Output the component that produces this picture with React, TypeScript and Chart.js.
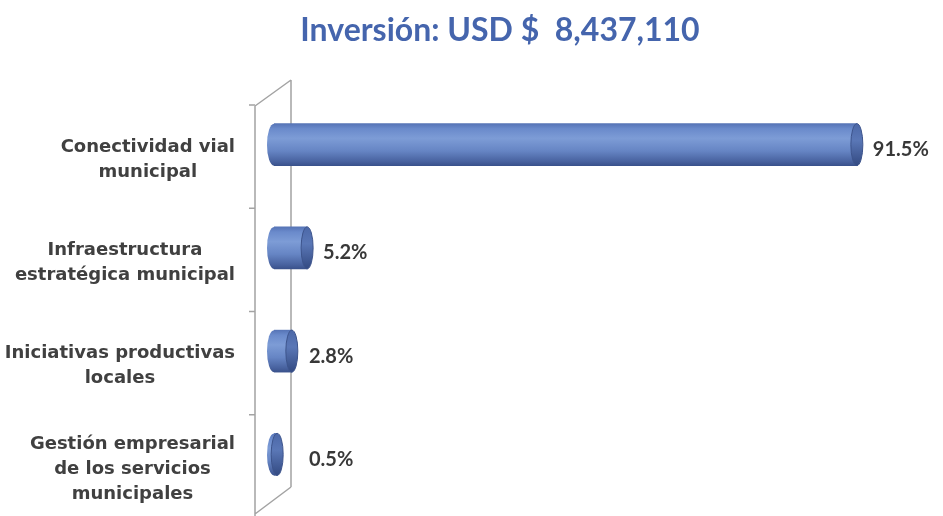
import React, { useEffect, useRef } from "react";
import { Chart, registerables } from "chart.js";

Chart.register(...registerables);

const TITLE = "Inversión: USD $  8,437,110";
const categories: string[][] = [
  ["Conectividad vial", "municipal"],
  ["Infraestructura", "estratégica municipal"],
  ["Iniciativas productivas", "locales"],
  ["Gestión empresarial", "de los servicios", "municipales"],
];
const shares: number[] = [91.5, 5.2, 2.8, 0.5];
const valueLabels: string[] = ["91.5%", "5.2%", "2.8%", "0.5%"];

const BAR_H = 42;
const DY = -10;
const LABEL_FONT = "'DejaVu Sans', sans-serif";

function bodyGradient(ctx: CanvasRenderingContext2D, yc: number, h: number) {
  const g = ctx.createLinearGradient(0, yc - h / 2, 0, yc + h / 2);
  g.addColorStop(0, "#5674b6");
  g.addColorStop(0.12, "#6a8acb");
  g.addColorStop(0.35, "#7d9cd6");
  g.addColorStop(0.65, "#6685c4");
  g.addColorStop(0.9, "#48629f");
  g.addColorStop(1, "#3a528c");
  return g;
}

function capGradient(ctx: CanvasRenderingContext2D, yc: number, h: number) {
  const g = ctx.createLinearGradient(0, yc - h / 2, 0, yc + h / 2);
  g.addColorStop(0, "#4c68a8");
  g.addColorStop(0.4, "#5a77b6");
  g.addColorStop(1, "#334a82");
  return g;
}

const cylPlugin = {
  id: "cyl",
  beforeDatasetsDraw(chart: any) {
    const { ctx, chartArea, scales } = chart;
    const y = scales.y;
    const L = chartArea.left;
    const wl = L - 19;
    const wr = L + 17;
    const top = chartArea.top;
    const H = chart.height;
    ctx.save();
    ctx.strokeStyle = "#a3a3a3";
    ctx.lineWidth = 1.5;
    ctx.beginPath();
    ctx.moveTo(wl, top + 3);
    ctx.lineTo(wl, H);
    ctx.moveTo(wr, top - 23);
    ctx.lineTo(wr, H - 29);
    ctx.moveTo(wl, top + 3);
    ctx.lineTo(wr, top - 23);
    ctx.moveTo(wl, H - 2);
    ctx.lineTo(wr, H - 29);
    ctx.stroke();
    const band = y.getPixelForValue(1) - y.getPixelForValue(0);
    ctx.beginPath();
    for (let i = 0; i < categories.length; i++) {
      const ty = y.getPixelForValue(i) - band / 2 + 2;
      ctx.moveTo(wl - 6, ty);
      ctx.lineTo(wl, ty);
    }
    ctx.stroke();

    // category labels: each block right-aligned at the axis, lines centered within the block
    ctx.font = `bold 18px ${LABEL_FONT}`;
    ctx.fillStyle = "#404040";
    ctx.textAlign = "center";
    ctx.textBaseline = "middle";
    const right = L - 39;
    const lh = 25;
    categories.forEach((lines, i) => {
      const w = Math.max(...lines.map((s) => ctx.measureText(s).width));
      const cx = right - w / 2;
      const cy = y.getPixelForValue(i) + 5;
      lines.forEach((s, j) => {
        ctx.fillText(s, cx, cy + (j - (lines.length - 1) / 2) * lh);
      });
    });
    ctx.restore();
    ctx.save();
    ctx.translate(0, DY);
  },
  afterDatasetsDraw(chart: any) {
    const { ctx } = chart;
    const meta = chart.getDatasetMeta(0);
    meta.data.forEach((el: any) => {
      const h = el.height;
      const yc = el.y;
      ctx.beginPath();
      ctx.ellipse(el.base, yc, 7, h / 2, 0, Math.PI / 2, (3 * Math.PI) / 2);
      ctx.closePath();
      ctx.fillStyle = bodyGradient(ctx, yc, h);
      ctx.fill();
      ctx.beginPath();
      ctx.ellipse(el.x, yc, 6, h / 2, 0, 0, Math.PI * 2);
      ctx.fillStyle = capGradient(ctx, yc, h);
      ctx.fill();
      ctx.strokeStyle = "#3d548c";
      ctx.lineWidth = 1;
      ctx.stroke();
    });
    ctx.restore();
    const wr = chart.chartArea.left + 17;
    ctx.save();
    ctx.font = "bold 20px Lato, sans-serif";
    ctx.fillStyle = "#383838";
    ctx.textBaseline = "middle";
    ctx.textAlign = "left";
    meta.data.forEach((el: any, i: number) => {
      const x = Math.max(el.x + 16, wr + 18);
      ctx.fillText(valueLabels[i], x, el.y + DY + 5);
    });
    ctx.restore();
  },
  afterDraw(chart: any) {
    const { ctx } = chart;
    ctx.save();
    ctx.font = "bold 32px Lato, sans-serif";
    ctx.fillStyle = "#4565ad";
    ctx.textAlign = "center";
    ctx.textBaseline = "alphabetic";
    ctx.fillText(TITLE, 500, 41);
    ctx.restore();
  },
};

export default function App() {
  const ref = useRef<HTMLCanvasElement>(null);
  useEffect(() => {
    if (!ref.current) return;
    const chart = new Chart(ref.current, {
      type: "bar",
      data: {
        labels: categories,
        datasets: [
          {
            data: shares,
            barThickness: BAR_H,
            borderWidth: 0,
            backgroundColor: (c: any) => {
              const ch = c.chart;
              if (!ch.chartArea) return "#6685c4";
              const yc = ch.scales.y.getPixelForValue(c.dataIndex);
              return bodyGradient(ch.ctx, yc, BAR_H);
            },
          },
        ],
      },
      options: {
        indexAxis: "y",
        animation: false,
        responsive: false,
        devicePixelRatio: 1,
        layout: { padding: { left: 0, right: 32, top: 103, bottom: 0 } },
        plugins: { legend: { display: false }, tooltip: { enabled: false }, title: { display: false } },
        scales: {
          x: { min: 0, max: 100, display: false },
          y: {
            type: "category",
            grid: { display: false, drawTicks: false },
            border: { display: false },
            ticks: { display: false },
            afterFit: (s: any) => {
              s.width = 274;
              s.paddingTop = 0;
              s.paddingBottom = 0;
            },
          },
        },
      },
      plugins: [cylPlugin],
    });
    return () => chart.destroy();
  }, []);
  return (
    <div style={{ position: "absolute", left: 0, top: 0, width: 943, height: 516, background: "#fff" }}>
      <canvas ref={ref} width={943} height={516} style={{ display: "block" }} />
    </div>
  );
}
